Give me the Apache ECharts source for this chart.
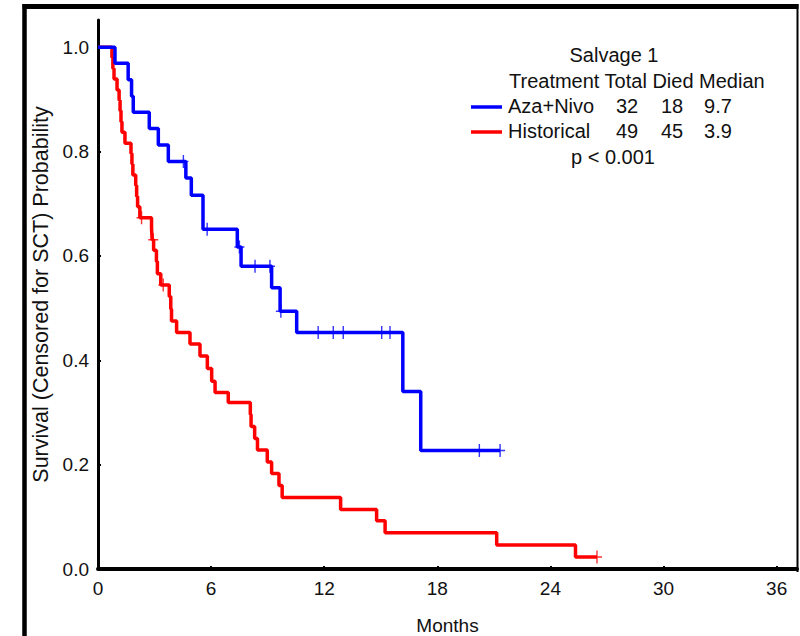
<!DOCTYPE html>
<html>
<head>
<meta charset="utf-8">
<script src="https://cdn.jsdelivr.net/npm/echarts@6/dist/echarts.min.js"></script>
<style>
  html, body { margin: 0; padding: 0; background: #fff; }
  #chart { width: 800px; height: 636px; }
</style>
</head>
<body>
<div id="chart"></div>
<script>
const FONT = '"Liberation Sans", Arial, sans-serif'
const INK = '#111'
const BLUE = '#0000ff'
const RED = '#ff0000'

// [months, survival after the drop]
const azaSteps = [
  [0, 1.0], [0.90, 0.969], [1.60, 0.9375], [1.78, 0.906], [1.87, 0.875],
  [2.72, 0.844], [3.20, 0.8125], [3.73, 0.781], [4.66, 0.749], [4.95, 0.716],
  [5.57, 0.651], [7.39, 0.617], [7.59, 0.580], [9.21, 0.539], [9.66, 0.494],
  [10.54, 0.453], [16.17, 0.340], [17.12, 0.227], [21.33, 0.227]
]
const azaCensored = [
  [4.53, 0.781], [5.79, 0.651], [7.50, 0.617], [8.33, 0.580], [9.12, 0.580],
  [9.70, 0.494], [11.68, 0.453], [12.48, 0.453], [13.01, 0.453], [15.05, 0.453],
  [15.49, 0.453], [20.23, 0.227], [21.33, 0.227]
]
const histSteps = [
  [0, 1.0], [0.74, 0.980], [0.79, 0.959], [0.85, 0.939], [1.01, 0.918],
  [1.12, 0.898], [1.17, 0.878], [1.22, 0.857], [1.27, 0.837], [1.43, 0.816],
  [1.75, 0.796], [1.80, 0.776], [1.85, 0.755], [2.00, 0.735], [2.05, 0.714],
  [2.10, 0.694], [2.22, 0.673], [2.84, 0.653], [2.87, 0.631], [2.95, 0.611],
  [3.10, 0.589], [3.15, 0.566], [3.33, 0.544], [3.78, 0.522], [3.86, 0.498],
  [3.90, 0.475], [4.17, 0.453], [4.88, 0.431], [5.41, 0.408], [5.80, 0.384],
  [6.03, 0.360], [6.21, 0.338], [6.91, 0.319], [8.08, 0.296], [8.12, 0.273],
  [8.31, 0.250], [8.46, 0.228], [8.98, 0.205], [9.21, 0.183], [9.60, 0.160],
  [9.77, 0.137], [12.87, 0.114], [14.78, 0.0925], [15.23, 0.0695], [21.15, 0.046],
  [25.33, 0.023], [26.47, 0.023]
]
const histCensored = [
  [2.31, 0.673], [2.93, 0.631], [3.46, 0.544], [26.47, 0.023]
]

const xTicks = [0, 6, 12, 18, 24, 30, 36]
const yTicks = [0, 0.2, 0.4, 0.6, 0.8, 1.0]

const legendTitle = 'Salvage 1'
const legendHeader = 'Treatment Total Died Median'
const groupNames = ['Aza+Nivo', 'Historical']
const groupColors = [BLUE, RED]
const groupTotal = [32, 49]
const groupDied = [18, 45]
const groupMedian = ['9.7', '3.9']
const pValue = 'p < 0.001'

const CROSS = 'path://M4.3,0H5.7V13H4.3Z M0,5.8H10V7.2H0Z'

const chart = echarts.init(document.getElementById('chart'), null, { renderer: 'svg' })

function txt(text, x, y, align) {
  return {
    type: 'text', x: x, y: y, z: 10,
    style: { text: text, font: '20px ' + FONT, fill: INK, align: align || 'left', verticalAlign: 'middle' }
  }
}
function seg(x1, y1, x2, y2, color, w) {
  return { type: 'line', z: 10, shape: { x1, y1, x2, y2 }, style: { stroke: color, lineWidth: w } }
}

const graphic = [
  // outer frame
  seg(24.5, 4, 24.5, 636, '#000', 4.5),
  seg(22.5, 6.5, 798.5, 6.5, '#000', 5),
  seg(797.5, 4, 797.5, 572, '#000', 2),
  // legend block
  txt(legendTitle, 614, 55, 'center'),
  txt(legendHeader, 509, 81)
]
const rowY = [106, 131]
groupNames.forEach((name, i) => {
  const y = rowY[i]
  graphic.push(seg(471, y + 1, 502, y + 1, groupColors[i], 3.5))
  graphic.push(txt(name, 508, y))
  graphic.push(txt(String(groupTotal[i]), 627, y, 'center'))
  graphic.push(txt(String(groupDied[i]), 672, y, 'center'))
  graphic.push(txt(groupMedian[i], 718, y, 'center'))
})
graphic.push(txt(pValue, 613, 157, 'center'))

const stepSeries = (data, color) => ({
  type: 'line', data: data, step: 'end', showSymbol: false, animation: false,
  lineStyle: { color: color, width: 3.5 }, z: 2
})
const censorSeries = (data, color) => ({
  type: 'scatter', data: data, symbol: CROSS, symbolSize: [10, 13], animation: false,
  itemStyle: { color: color }, z: 3
})

chart.setOption({
  backgroundColor: '#fff',
  animation: false,
  grid: { left: 98, right: 3, top: 20, bottom: 67, containLabel: false, outerBoundsMode: 'none' },
  xAxis: {
    type: 'value', min: 0, max: 37.08,
    name: 'Months', nameLocation: 'middle', nameGap: 47,
    nameTextStyle: { fontFamily: FONT, fontSize: 19, color: INK },
    axisLine: { lineStyle: { color: '#000', width: 4 } },
    axisTick: { inside: true, length: 3, lineStyle: { color: '#000', width: 2 }, customValues: xTicks },
    axisLabel: { customValues: xTicks, fontFamily: FONT, fontSize: 19, color: INK, margin: 10 },
    splitLine: { show: false }
  },
  yAxis: {
    type: 'value', min: 0, max: 1.052,
    name: 'Survival (Censored for SCT) Probability', nameLocation: 'middle', nameGap: 46,
    nameTextStyle: { fontFamily: FONT, fontSize: 21.5, color: INK },
    axisLine: { show: true, lineStyle: { color: '#000', width: 3 } },
    axisTick: { show: true, inside: true, length: 3, lineStyle: { color: '#000', width: 2 }, customValues: yTicks },
    axisLabel: { customValues: yTicks, formatter: v => v.toFixed(1), fontFamily: FONT, fontSize: 19, color: INK, margin: 9 },
    splitLine: { show: false }
  },
  series: [
    stepSeries(histSteps, RED),
    stepSeries(azaSteps, BLUE),
    censorSeries(histCensored, RED),
    censorSeries(azaCensored, BLUE)
  ],
  graphic: graphic
})
</script>
</body>
</html>
